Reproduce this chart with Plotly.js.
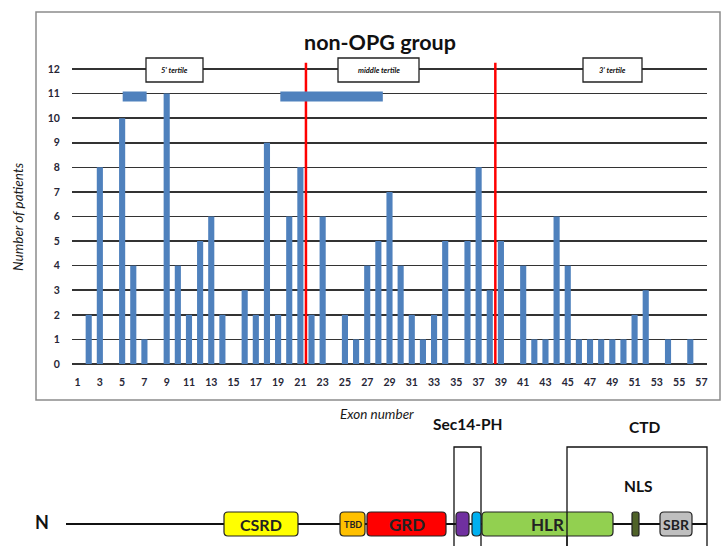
<!DOCTYPE html>
<html>
<head>
<meta charset="utf-8">
<script src="https://cdn.plot.ly/plotly-3.0.1.min.js"></script>
<style>html,body{margin:0;padding:0;background:#fff;}#chart{width:724px;height:546px;}</style>
</head>
<body>
<div id="chart"></div>
<script>
// ---- data ----
const exons = [];
for (let i = 1; i <= 57; i++) exons.push(i);
const patients = [
  0, 2, 8, 0, 10, 4, 1, 0, 11, 4,   // 1-10
  2, 5, 6, 2, 0, 3, 2, 9, 2, 6,     // 11-20
  8, 2, 6, 0, 2, 1, 4, 5, 7, 4,     // 21-30
  2, 1, 2, 5, 0, 5, 8, 3, 5, 0,     // 31-40
  4, 1, 1, 6, 4, 1, 1, 1, 1, 1,     // 41-50
  2, 3, 0, 1, 0, 1, 0               // 51-57
];
const xTickVals = [1,3,5,7,9,11,13,15,17,19,21,23,25,27,29,31,33,35,37,39,41,43,45,47,49,51,53,55,57];
const yTickVals = [0,1,2,3,4,5,6,7,8,9,10,11,12];
const tertileBoundaries = [21.5, 38.5];
const tertileLabels = ["5' tertile", "middle tertile", "3' tertile"];
const regionStart = [5.05, 19.2];
const regionEnd = [7.2, 28.4];

// protein schematic (labels & colors)
const domainLabels = ['CSRD', 'TBD', 'GRD', '', '', 'HLR', '', 'SBR'];
const domainColors = ['#FFFF00', '#FFC000', '#FF0000', '#7030A0', '#00B0F0', '#92D050', '#4F6228', '#BFBFBF'];

// ---- layout geometry (pixel space of the 724x546 canvas) ----
const W = 724, H = 546;
const domainGeom = [[224, 298], [340, 365], [367, 446], [456, 469], [472, 481], [482, 613], [632, 639], [660, 692]];
const domainFont = [16, 9, 17, 0, 0, 17, 0, 14];
const tertileBoxes = [[146, 203], [338, 419], [583, 642]];

function rrect(x0, y0, x1, y1, r) {
  return `M${x0 + r},${y0} L${x1 - r},${y0} Q${x1},${y0} ${x1},${y0 + r} L${x1},${y1 - r} Q${x1},${y1} ${x1 - r},${y1} L${x0 + r},${y1} Q${x0},${y1} ${x0},${y1 - r} L${x0},${y0 + r} Q${x0},${y0} ${x0 + r},${y0} Z`;
}

const fontFam = 'Lato, "Open Sans", sans-serif';
const shapes = [];
const annotations = [];

// chart frame
shapes.push({type: 'rect', xref: 'x2', yref: 'y2', x0: 36, x1: 720, y0: 12, y1: 400,
  line: {color: '#8c8c8c', width: 1.5}, fillcolor: 'rgba(0,0,0,0)', layer: 'below'});

// tertile boundaries (red lines)
tertileBoundaries.forEach(b => shapes.push({type: 'line', xref: 'x', yref: 'y', x0: b, x1: b, y0: 0, y1: 12.25,
  line: {color: '#FF0000', width: 2.5}, layer: 'above'}));

// highlighted regions at top
regionStart.forEach((s, i) => shapes.push({type: 'rect', xref: 'x', yref: 'y', x0: s, x1: regionEnd[i], y0: 10.68, y1: 11.08,
  line: {width: 0}, fillcolor: '#4F81BD', layer: 'above'}));

// tertile label boxes
tertileBoxes.forEach((bx, i) => {
  shapes.push({type: 'rect', xref: 'x2', yref: 'y2', x0: bx[0], x1: bx[1], y0: 58, y1: 82,
    line: {color: '#222', width: 1.3}, fillcolor: '#ffffff', layer: 'above'});
  annotations.push({xref: 'x2', yref: 'y2', x: (bx[0] + bx[1]) / 2, y: 70, text: tertileLabels[i], showarrow: false,
    font: {family: fontFam, size: 7.5, color: '#111', style: 'italic', weight: 'bold'}, xanchor: 'center', yanchor: 'middle'});
});

// titles
annotations.push({xref: 'x2', yref: 'y2', x: 380, y: 42, text: '<b>non-OPG group</b>', showarrow: false,
  font: {family: fontFam, size: 21.5, color: '#111'}, xanchor: 'center', yanchor: 'middle'});
annotations.push({xref: 'x2', yref: 'y2', x: 18, y: 217, text: 'Number of patients', showarrow: false, textangle: -90,
  font: {family: fontFam, size: 13.5, color: '#1a1a1a', style: 'italic'}, xanchor: 'center', yanchor: 'middle'});
annotations.push({xref: 'x2', yref: 'y2', x: 377, y: 414, text: 'Exon number', showarrow: false,
  font: {family: fontFam, size: 13.5, color: '#1a1a1a', style: 'italic'}, xanchor: 'center', yanchor: 'middle'});

// schematic backbone
shapes.push({type: 'line', xref: 'x2', yref: 'y2', x0: 66, x1: 707, y0: 524, y1: 524, line: {color: '#111', width: 2}, layer: 'above'});
// Sec14-PH and CTD brackets
shapes.push({type: 'path', xref: 'x2', yref: 'y2', path: 'M454,560 L454,447 L481,447 L481,560', line: {color: '#111', width: 1.3}, layer: 'above'});
shapes.push({type: 'path', xref: 'x2', yref: 'y2', path: 'M567,560 L567,447 L707,447 L707,560', line: {color: '#111', width: 1.3}, layer: 'above'});

domainGeom.forEach((g, i) => {
  shapes.push({type: 'path', xref: 'x2', yref: 'y2', path: rrect(g[0], 512, g[1], 536, i === 6 ? 2 : 4),
    fillcolor: domainColors[i], line: {color: '#222', width: 1.2}, layer: 'above'});
  if (domainLabels[i]) {
    annotations.push({xref: 'x2', yref: 'y2', x: (g[0] + g[1]) / 2, y: 524.5, text: '<b>' + domainLabels[i] + '</b>', showarrow: false,
      font: {family: fontFam, size: domainFont[i], color: '#222'}, xanchor: 'center', yanchor: 'middle'});
  }
});
// re-draw the CTD left edge over HLR box
shapes.push({type: 'line', xref: 'x2', yref: 'y2', x0: 567, x1: 567, y0: 512, y1: 546, line: {color: '#111', width: 1.3}, layer: 'above'});

[['N', 42, 522, 18], ['Sec14-PH', 468, 424, 15.5], ['CTD', 645, 427, 15.5], ['NLS', 638, 486, 15.5], ['C', 727, 523, 18]].forEach(t => {
  annotations.push({xref: 'x2', yref: 'y2', x: t[1], y: t[2], text: '<b>' + t[0] + '</b>', showarrow: false,
    font: {family: fontFam, size: t[3], color: '#111'}, xanchor: 'center', yanchor: 'middle'});
});

const data = [
  {type: 'bar', x: exons, y: patients, width: 0.55, marker: {color: '#4F81BD'}, xaxis: 'x', yaxis: 'y', hoverinfo: 'x+y'},
  {type: 'scatter', x: [], y: [], xaxis: 'x2', yaxis: 'y2', showlegend: false}
];

const layout = {
  width: W, height: H,
  margin: {l: 0, r: 0, t: 0, b: 0},
  paper_bgcolor: '#ffffff',
  plot_bgcolor: 'rgba(0,0,0,0)',
  showlegend: false,
  xaxis: {
    domain: [72 / W, 707 / W], range: [0.5, 57.5], anchor: 'y',
    tickvals: xTickVals, ticktext: xTickVals.map(String),
    ticks: 'outside', ticklen: 8, tickcolor: 'rgba(0,0,0,0)',
    showgrid: false, zeroline: false, showline: false,
    tickfont: {family: fontFam, size: 10.5, color: '#262636', weight: 'bold'}
  },
  yaxis: {
    domain: [(H - 364) / H, (H - 61.6) / H], range: [0, 12.3], anchor: 'x',
    tickvals: yTickVals, ticktext: yTickVals.map(String),
    ticks: 'outside', ticklen: 9, tickcolor: 'rgba(0,0,0,0)',
    showgrid: true, gridcolor: '#333333', gridwidth: 1.6,
    zeroline: true, zerolinecolor: '#333333', zerolinewidth: 1.6, showline: false,
    tickfont: {family: fontFam, size: 10.5, color: '#262636', weight: 'bold'}
  },
  xaxis2: {domain: [0, 1], range: [0, W], visible: false, anchor: 'y2', fixedrange: true},
  yaxis2: {domain: [0, 1], range: [H, 0], visible: false, anchor: 'x2', fixedrange: true},
  shapes: shapes,
  annotations: annotations
};

Plotly.newPlot('chart', data, layout, {staticPlot: true, displayModeBar: false});
</script>
</body>
</html>
